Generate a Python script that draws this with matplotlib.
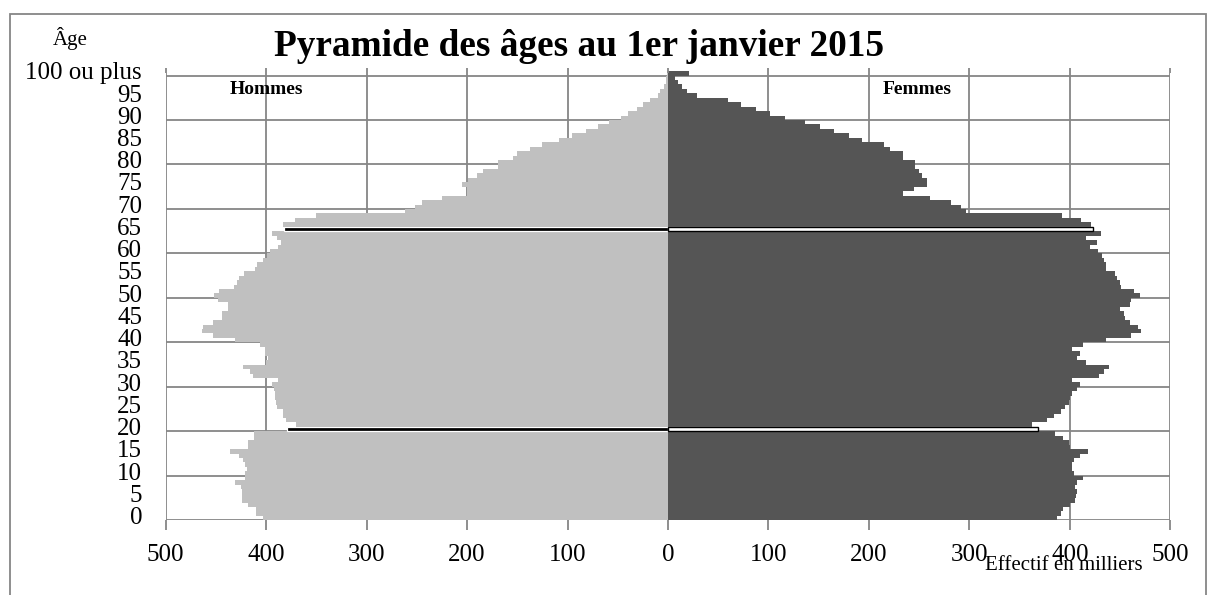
import matplotlib
matplotlib.use("Agg")
import matplotlib.pyplot as plt
from matplotlib.patches import Rectangle
import numpy as np

plt.rcParams['font.family'] = ['Liberation Serif', 'DejaVu Serif']

ages = list(range(0, 101))
hommes = [403, 410, 410, 418, 424, 424, 424, 425, 431, 421,
          421, 419, 421, 423, 427, 436, 418, 418, 412, 412,
          379, 370, 380, 383, 383, 389, 390, 391, 391, 392,
          394, 388, 413, 416, 423, 400, 398, 401, 401, 406,
          431, 453, 464, 463, 453, 444, 444, 438, 438, 448,
          452, 447, 432, 429, 427, 422, 411, 409, 403, 399,
          396, 388, 385, 389, 394, 382, 383, 371, 350, 262,
          252, 245, 225, 200, 200, 205, 199, 190, 184, 169,
          169, 154, 150, 137, 125, 108, 96, 82, 70, 59,
          47, 40, 31, 25, 18, 10, 8, 4, 2, 2,
          1]
femmes = [387, 391, 393, 400, 405, 406, 407, 405, 407, 413,
          404, 402, 402, 404, 410, 418, 400, 399, 393, 385,
          368, 362, 377, 384, 391, 395, 399, 400, 402, 407,
          410, 402, 429, 434, 439, 416, 407, 410, 402, 413,
          436, 461, 471, 468, 460, 455, 454, 450, 460, 461,
          470, 464, 451, 450, 447, 445, 436, 436, 434, 432,
          428, 420, 427, 416, 431, 423, 421, 411, 392, 297,
          292, 282, 261, 234, 245, 258, 258, 253, 250, 246,
          246, 234, 234, 221, 215, 193, 180, 165, 151, 136,
          117, 102, 88, 73, 60, 29, 19, 14, 10, 7,
          21]
highlight_ages = [20, 65]
ytick_ages = list(range(0, 101, 5))
ytick_labels = [str(a) for a in range(0, 100, 5)] + ["100 ou plus"]
xticks = list(range(-500, 501, 100))
xtick_labels = [str(abs(v)) for v in xticks]

W, H = 1216, 595
fig = plt.figure(figsize=(W / 100, H / 100), dpi=100)
rect = [165.7 / W, 1 - 520.3 / H, (1170.2 - 165.7) / W, (520.3 - 73.3) / H]
ax = fig.add_axes(rect)

grid_c = '#868686'
male_c = '#C0C0C0'
fem_c = '#555555'

ax.set_xlim(-500, 500)
ax.set_ylim(0, 100)

for gx in xticks:
    ax.axvline(gx, color=grid_c, lw=1.3, zorder=0)
for gy in range(0, 101, 10):
    ax.axhline(gy, color=grid_c, lw=1.3, zorder=0)

ypos = np.array(ages) + 0.5
h = np.array(hommes, dtype=float)
f = np.array(femmes, dtype=float)

mc = ['black' if a in highlight_ages else male_c for a in ages]
me = ['white' if a in highlight_ages else 'none' for a in ages]
fc = ['white' if a in highlight_ages else fem_c for a in ages]
fe = ['black' if a in highlight_ages else 'none' for a in ages]
mlw = [0.9 if a in highlight_ages else 0 for a in ages]
flw = [1.0 if a in highlight_ages else 0 for a in ages]

ax.barh(ypos, -h, height=1.0, color=mc, edgecolor=me, linewidth=mlw, zorder=2, clip_on=False)
ax.barh(ypos, f, height=1.0, color=fc, edgecolor=fe, linewidth=flw, zorder=2, clip_on=False)
ax.axvline(0, color='#BFBFBF', lw=1.5, zorder=1.5)

for s in ax.spines.values():
    s.set_visible(False)

ax.set_xticks(xticks)
ax.set_xticklabels(xtick_labels, fontsize=18)
ax.tick_params(axis='x', direction='out', length=7, width=1.3, color=grid_c, pad=10)
ax.set_yticks(np.array(ytick_ages) + 0.5)
ax.set_yticklabels(ytick_labels, fontsize=18)
ax.tick_params(axis='y', length=0, pad=17)
for lab in ax.get_yticklabels():
    lab.set_verticalalignment('center')

top = ax.twiny()
top.set_xlim(-500, 500)
top.set_xticks(xticks)
top.set_xticklabels([])
top.tick_params(axis='x', direction='out', length=3.5, width=1.3, color=grid_c)
for s in top.spines.values():
    s.set_visible(False)

fig.text(579 / W, 1 - 56 / H, "Pyramide des âges au 1er janvier 2015", fontsize=26.8,
         fontweight='bold', ha='center', va='baseline')
fig.text(70 / W, 1 - 39 / H, "Âge", fontsize=15, ha='center', va='center')
fig.text(266 / W, 1 - 89 / H, "Hommes", fontsize=14, fontweight='bold', ha='center', va='center')
fig.text(917 / W, 1 - 89 / H, "Femmes", fontsize=14, fontweight='bold', ha='center', va='center')
fig.text(1064 / W, 1 - 566 / H, "Effectif en milliers", fontsize=15, ha='center', va='center')

fig.patches.append(Rectangle((10 / W, -0.05), (1206 - 10) / W, 1.05 - 14 / H,
                             transform=fig.transFigure, fill=False, edgecolor=grid_c, lw=1.3))

fig.savefig('out.png', dpi=100)
